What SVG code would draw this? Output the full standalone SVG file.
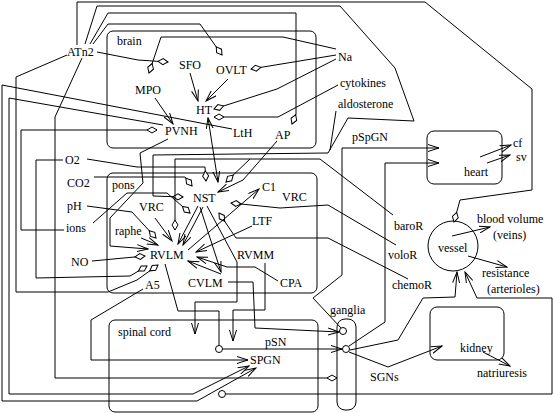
<svg xmlns="http://www.w3.org/2000/svg" width="553" height="413" viewBox="0 0 553 413">
<defs>
<style>
text{font-family:"Liberation Serif","Times New Roman",serif;font-size:12px;fill:#000}
.c{fill:none;stroke:#000;stroke-width:1}
.box{fill:none;stroke:#000;stroke-width:1}
.ar{marker-end:url(#arr)}
.dm{marker-end:url(#dia)}
</style>
<marker id="arr" markerUnits="userSpaceOnUse" markerWidth="12" markerHeight="8" refX="11" refY="4" orient="auto"><path d="M0,0.5 L11,4 L0,7.5" fill="none" stroke="#000" stroke-width="1"/></marker>
<marker id="arrs" markerUnits="userSpaceOnUse" markerWidth="12" markerHeight="8" refX="1" refY="4" orient="auto"><path d="M12,0.5 L1,4 L12,7.5" fill="none" stroke="#000" stroke-width="1"/></marker>
<marker id="dia" markerUnits="userSpaceOnUse" markerWidth="12" markerHeight="8" refX="11" refY="4" orient="auto"><path d="M1,4 L6,1 L11,4 L6,7 Z" fill="#fff" stroke="#000" stroke-width="1"/></marker>
</defs>
<rect width="553" height="413" fill="#fff"/>
<g id="regions">
<rect id="brain-box" class="box" x="107" y="31" width="209" height="117" rx="6"/>
<rect id="brainstem-box" class="box" x="107" y="173" width="210" height="120" rx="6"/>
<rect id="spinal-box" class="box" x="109" y="320" width="209" height="92" rx="6"/>
<rect id="ganglia-box" class="box" x="337" y="319" width="19" height="91" rx="8"/>
<rect id="heart-box" class="box" x="427" y="131" width="75" height="53" rx="7"/>
<rect id="kidney-box" class="box" x="430" y="307" width="74" height="53" rx="7"/>
<circle id="vessel-circle" class="box" cx="453" cy="246" r="25"/>
<circle class="box" cx="343" cy="331" r="3.5"/>
<circle class="box" cx="346" cy="349" r="3.5"/>
<circle class="box" cx="219" cy="349" r="3.5"/>
<circle class="box" cx="222" cy="394" r="3.5"/>
</g>
<g id="connectors">
<path class="c dm" d="M77,45 L77,2 L425,2 L532,89 L532,190 L460,200 L454,222"/>
<path class="c dm" d="M85,44 L97,6 L340,6 L395,68 L414,121 L348,118 L328,153 L153,155 L153,196 L183,197"/>
<path class="c" d="M336,111 L330,150"/>
<path class="c dm" d="M90,44 L108,13 L296,13 L296,114 L292,124"/>
<path class="c dm" d="M93,44 L108,24 L200,24 L222,55"/>
<path class="c dm" d="M97,52 L138,60 L168,62"/>
<path class="c dm" d="M67,55 L16,77 L16,292 L108,292 L137,280 L158,265"/>
<path class="c dm" d="M82,58 L55,117 L55,378 L337,378"/>
<path class="c dm" d="M336,49 L283,37 L161,37 L149,73"/>
<path class="c dm" d="M336,55 L251,69"/>
<path class="c dm" d="M336,59 L277,89 L214,109"/>
<path class="c dm" d="M338,85 L278,117 L214,117"/>
<path class="c ar" d="M190,73 L198,101"/>
<path class="c ar" d="M228,79 L206,101"/>
<path class="c ar" d="M155,98 L173,124"/>
<path class="c ar" d="M232,129 L2,85 L2,401 L197,401 L256,368"/>
<path class="c ar" d="M163,125 L9,98 L9,394 L193,394 L249,366"/>
<path class="c dm" d="M64,230 L21,230 L21,130 L157,130"/>
<path class="c dm" d="M63,160 L36,160 L36,278 L130,276 L147,266"/>
<path class="c dm" d="M87,159 L137,167 L205,167 L206,181"/>
<path class="c dm" d="M94,177 L185,177 L192,186"/>
<path class="c ar" d="M208,118 L218,182" marker-start="url(#arrs)"/>
<path class="c ar" d="M277,141 L243,180 L218,192"/>
<path class="c dm" d="M393,215 L320,159 L175,159 L175,230"/>
<path class="c dm" d="M250,159 L226,182"/>
<path class="c dm" d="M396,245 L328,205 L280,208 L231,203"/>
<path class="c dm" d="M408,279 L328,238 L236,238 L219,213"/>
<path class="c dm" d="M93,223 L127,193 L167,193 L190,213"/>
<path class="c ar" d="M198,206 L178,244"/>
<path class="c ar" d="M203,207 L183,245"/>
<path class="c ar" d="M155,218 L172,241"/>
<path class="c ar" d="M141,238 L158,245"/>
<path class="c dm" d="M87,206 L132,212 L156,238"/>
<path class="c ar" d="M168,139 L140,153 L143,183 L110,218 L110,246 L148,249"/>
<path class="c dm" d="M92,261 L145,256"/>
<path class="c ar" d="M188,250 L259,189"/>
<path class="c ar" d="M252,226 L196,252"/>
<path class="c ar" d="M221,274 L188,261"/>
<path class="c ar" d="M278,281 L255,267 L227,267 L197,257"/>
<path class="c ar" d="M200,207 L221,272"/>
<path class="c ar" d="M207,206 L237,262 L237,302 L195,302 L195,334"/>
<path class="c ar" d="M265,263 L265,310 L233,310 L233,341"/>
<path class="c" d="M165,264 L178,311 L219,311 L219,345"/>
<path class="c ar" d="M143,289 L91,320 L91,360 L248,360"/>
<path class="c ar" d="M228,282 L253,282 L255,328 L339,332"/>
<path class="c ar" d="M223,349 L342,349"/>
<path class="c ar" d="M341,328 L313,298 L342,275 L342,148 L439,148"/>
<path class="c ar" d="M349,346 L385,322 L385,163 L439,163"/>
<path class="c ar" d="M350,350 L398,340 L423,298 L455,297 L457,272"/>
<path class="c ar" d="M349,352 L388,367 L442,346"/>
<path class="c ar" d="M226,394 L552,394 L552,298 L477,298 L465,272"/>
<path class="c ar" d="M452,236 L490,227"/>
<path class="c ar" d="M468,256 L507,267"/>
<path class="c ar" d="M480,157 L511,145"/>
<path class="c ar" d="M487,163 L510,155"/>
<path class="c ar" d="M483,352 L510,366"/>
</g>
<g id="labels">
<text x="117" y="45">brain</text>
<g id="ATn2"><text x="67" y="56">ATn2</text></g>
<g id="SFO"><text x="179" y="69">SFO</text></g>
<g id="OVLT"><text x="216" y="74">OVLT</text></g>
<g id="MPO"><text x="135" y="94">MPO</text></g>
<g id="HT"><text x="196" y="114">HT</text></g>
<g id="PVNH"><text x="165" y="135">PVNH</text></g>
<g id="LtH"><text x="233" y="137">LtH</text></g>
<g id="AP"><text x="275" y="139">AP</text></g>
<g id="Na"><text x="338" y="61">Na</text></g>
<g id="cytokines"><text x="340" y="87">cytokines</text></g>
<g id="aldosterone"><text x="338" y="108">aldosterone</text></g>
<g id="pSpGN"><text x="352" y="141">pSpGN</text></g>
<g id="O2"><text x="65" y="164">O2</text></g>
<g id="CO2"><text x="67" y="187">CO2</text></g>
<text x="112" y="189">pons</text>
<g id="NST"><text x="193" y="202">NST</text></g>
<g id="C1"><text x="262" y="191">C1</text></g>
<g id="VRC"><text x="139" y="211">VRC</text></g>
<g id="VRC2"><text x="282" y="201">VRC</text></g>
<g id="pH"><text x="67" y="210">pH</text></g>
<g id="ions"><text x="66" y="232">ions</text></g>
<g id="raphe"><text x="115" y="235">raphe</text></g>
<g id="LTF"><text x="252" y="225">LTF</text></g>
<g id="RVLM"><text x="150" y="259">RVLM</text></g>
<g id="RVMM"><text x="237" y="259">RVMM</text></g>
<g id="NO"><text x="71" y="266">NO</text></g>
<g id="A5"><text x="145" y="289">A5</text></g>
<g id="CVLM"><text x="188" y="287">CVLM</text></g>
<g id="CPA"><text x="280" y="287">CPA</text></g>
<g id="baroR"><text x="394" y="230">baroR</text></g>
<g id="voloR"><text x="388" y="259">voloR</text></g>
<g id="chemoR"><text x="392" y="289">chemoR</text></g>
<g id="heart"><text x="464" y="176">heart</text></g>
<g id="cf"><text x="513" y="147">cf</text></g>
<g id="sv"><text x="516" y="161">sv</text></g>
<g id="vessel"><text x="438" y="252">vessel</text></g>
<g id="bloodvolume"><text x="477" y="223">blood volume</text><text x="493" y="239">(veins)</text></g>
<g id="resistance"><text x="482" y="277">resistance</text><text x="487" y="293">(arterioles)</text></g>
<g id="ganglia"><text x="330" y="314">ganglia</text></g>
<g id="spinalcord"><text x="118" y="336">spinal cord</text></g>
<g id="pSN"><text x="265" y="346">pSN</text></g>
<g id="SPGN"><text x="250" y="364">SPGN</text></g>
<g id="SGNs"><text x="370" y="381">SGNs</text></g>
<g id="kidney"><text x="460" y="352">kidney</text></g>
<g id="natriuresis"><text x="477" y="377">natriuresis</text></g>
</g>
</svg>
